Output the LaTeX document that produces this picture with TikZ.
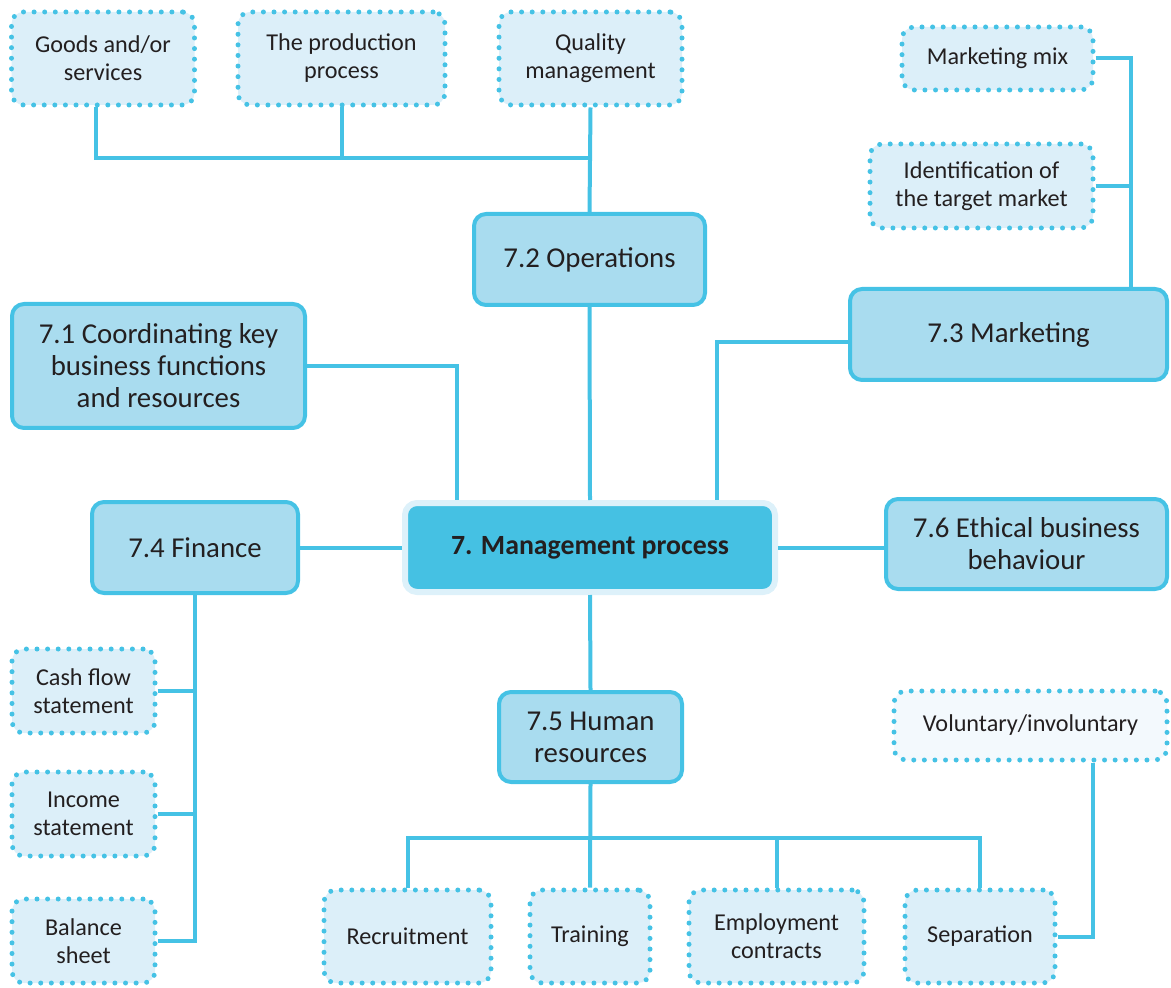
\documentclass[tikz,border=0pt]{standalone}
\usepackage{fontspec}
\setmainfont{Carlito}
\definecolor{lineC}{HTML}{45C2E5}
\definecolor{boxC}{HTML}{A9DCEF}
\definecolor{dotC}{HTML}{DCEFF9}
\definecolor{paleC}{HTML}{F3F9FD}
\definecolor{mainC}{HTML}{45C1E3}
\definecolor{ringC}{HTML}{DDF1FA}
\definecolor{inkC}{HTML}{231F20}
\tikzset{
  topic/.style={rounded corners=6pt, draw=lineC, line width=2pt, fill=boxC,
    align=center, text=inkC, font=\fontsize{14.4}{16}\selectfont, inner sep=2pt},
  item/.style={rounded corners=6pt, draw=lineC, line width=2.5pt, fill=dotC,
    dash pattern=on 0pt off 5.3pt, line cap=round,
    align=center, text=inkC, font=\fontsize{12.1}{14}\selectfont, inner sep=2pt},
  hub/.style={rounded corners=6pt, draw=ringC, line width=3pt, fill=mainC,
    align=center, text=inkC, font=\fontsize{13.9}{16}\selectfont\bfseries},
  link/.style={draw=lineC, line width=2pt}
}
\begin{document}
\begin{tikzpicture}[x=0.5pt,y=-0.5pt]
\useasboundingbox (0,0) rectangle (1171,988);

% central topic
\node[hub, minimum width=185pt, minimum height=44.5pt] (main) at (590,547.5) {7. Management process};

% main sub-topics
\node[topic, minimum width=115.5pt, minimum height=45.5pt] (ops) at (589.5,259.5) {7.2 Operations};
\node[topic, minimum width=158.5pt, minimum height=45.5pt] (mkt) at (1008.5,334.5) {7.3 Marketing};
\node[topic, minimum width=146.5pt, minimum height=62pt] (coord) at (158.5,366) {7.1 Coordinating key\\business functions\\and resources};
\node[topic, minimum width=103pt, minimum height=45.5pt] (fin) at (195,547.5) {7.4 Finance};
\node[topic, minimum width=140.5pt, minimum height=45pt] (eth) at (1026.5,544) {7.6 Ethical business\\behaviour};
\node[topic, minimum width=91.5pt, minimum height=45pt] (hr) at (590.5,737) {7.5 Human\\resources};

% operations details
\node[item, minimum width=91.5pt, minimum height=46.5pt] (goods) at (103,58.5) {Goods and/or\\services};
\node[item, minimum width=103.5pt, minimum height=46.5pt] (prod) at (341.5,58.5) {The production\\process};
\node[item, minimum width=91.5pt, minimum height=46.5pt] (qual) at (590.5,58.5) {Quality\\management};

% marketing details
\node[item, minimum width=95.5pt, minimum height=31.5pt] (mix) at (997.5,58.5) {Marketing mix};
\node[item, minimum width=111.5pt, minimum height=42pt] (ident) at (981.5,186) {Identification of\\the target market};

% finance details
\node[item, minimum width=71.5pt, minimum height=42pt] (cash) at (83.5,691) {Cash flow\\statement};
\node[item, minimum width=71.5pt, minimum height=42pt] (inc) at (83.5,814) {Income\\statement};
\node[item, minimum width=71.5pt, minimum height=42pt] (bal) at (83.5,941) {Balance\\sheet};

% human resources details
\node[item, minimum width=83.5pt, minimum height=46.5pt] (rec) at (407.5,936.5) {Recruitment};
\node[item, minimum width=60pt, minimum height=46.5pt] (trn) at (590,936.5) {Training};
\node[item, minimum width=87.5pt, minimum height=46.5pt] (emp) at (776.5,936.5) {Employment\\contracts};
\node[item, minimum width=75pt, minimum height=46.5pt] (sep) at (980,936.5) {Separation};
\node[item, fill=paleC, minimum width=136.5pt, minimum height=34.5pt] (vol) at (1030.5,725.5) {Voluntary/involuntary};

% junction points
\coordinate (gx) at (96,0);
\coordinate (jtop) at (590,158);
\coordinate (mkbus) at (1131,0);
\coordinate (mkj) at (717,342);
\coordinate (cj) at (457,366);
\coordinate (hj) at (590,838);
\coordinate (vx) at (1093,0);

% connectors
\draw[link] (goods.south -| gx) |- (jtop);
\draw[link] (prod.south) -- (prod.south |- jtop);
\draw[link] (qual.south) -- (ops.north);
\draw[link] (mix.east) -| (mkbus |- mkt.north);
\draw[link] (ident.east) -- (ident.east -| mkbus);
\draw[link] (mkt.west |- mkj) -- (mkj) -- (mkj |- main.north);
\draw[link] (coord.east) -| (cj |- main.north);
\draw[link] (ops.south) -- (main.north);
\draw[link] (fin.east) -- (main.west);
\draw[link] (main.east) -- (main.east -| eth.west);
\draw[link] (main.south) -- (hr.north);
\draw[link] (fin.south) |- (bal.east);
\draw[link] (cash.east) -- (cash.east -| fin.south);
\draw[link] (inc.east) -- (inc.east -| fin.south);
\draw[link] (hr.south) -- (trn.north);
\draw[link] (rec.north) |- (sep.north |- hj) -- (sep.north);
\draw[link] (emp.north) -- (emp.north |- hj);
\draw[link] (vol.south -| vx) |- (sep.east);
\end{tikzpicture}
\end{document}
